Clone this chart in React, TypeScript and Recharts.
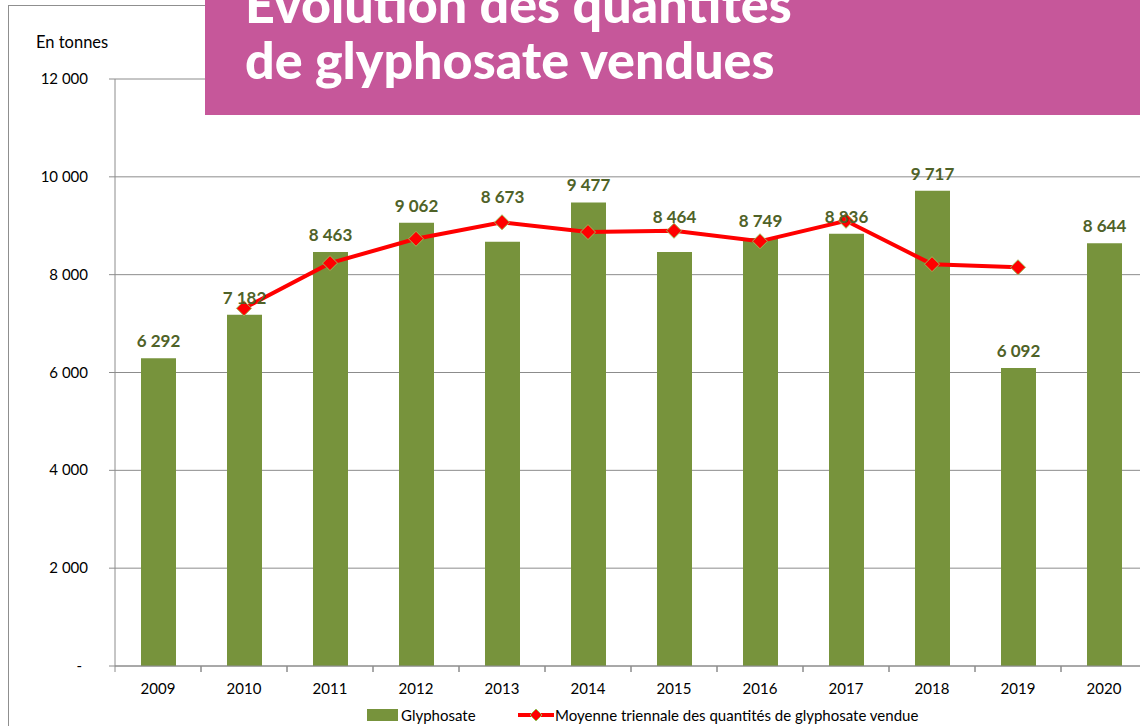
import React from 'react';
import { ComposedChart, Bar, Line, XAxis, YAxis, CartesianGrid, LabelList } from 'recharts';

const years = ['2009', '2010', '2011', '2012', '2013', '2014', '2015', '2016', '2017', '2018', '2019', '2020'];
const glyphosate = [6292, 7182, 8463, 9062, 8673, 9477, 8464, 8749, 8836, 9717, 6092, 8644];
const moyenneTriennale: (number | null)[] = [null, 7312, 8236, 8733, 9071, 8871, 8897, 8683, 9101, 8215, 8151, null];
const yTicks = [0, 2000, 4000, 6000, 8000, 10000, 12000];

const titleLines = ['Évolution des quantités', 'de glyphosate vendues'];
const unitLabel = 'En tonnes';
const seriesNames = ['Glyphosate', 'Moyenne triennale des quantités de glyphosate vendue'];

// label lift (px above bar top) for labels moved in the original
const labelLift: Record<string, number> = { '2013': 45, '2015': 35 };

const data = years.map((y, i) => ({ year: y, glyphosate: glyphosate[i], moyenne: moyenneTriennale[i] }));

const FONT = 'Lato, "Open Sans", sans-serif';
const GRID = '#8c8c8c';
const GREEN = '#77933c';
const LABEL = '#4f6228';
const RED = '#ff0000';

const fmt = (v: number) => (v === 0 ? '-' : String(v).replace(/\B(?=(\d{3})+(?!\d))/g, ' '));

const YTick = (props: any) => {
  const { x, y, payload } = props;
  const isZero = payload.value === 0;
  return (
    <text x={x - (isZero ? 6 : 0)} y={y} dy={5} textAnchor="end" fontFamily={FONT} fontSize={15} fill="#000">
      {fmt(payload.value)}
    </text>
  );
};

const XTick = (props: any) => {
  const { x, y, payload } = props;
  const half = payload && payload.offset ? payload.offset : 43;
  return (
    <g>
      <line x1={x - half} x2={x - half} y1={y - 8} y2={y - 2} stroke={GRID} strokeWidth={1} />
      <line x1={x + half} x2={x + half} y1={y - 8} y2={y - 2} stroke={GRID} strokeWidth={1} />
      <text x={x} y={y} dy={20} textAnchor="middle" fontFamily={FONT} fontSize={15} fill="#000">
        {payload.value}
      </text>
    </g>
  );
};

const BarLabel = (props: any) => {
  const { x, y, width, value, index } = props;
  const lift = labelLift[years[index]] ?? 17;
  return (
    <text
      x={x + width / 2}
      y={y - lift}
      dy={6}
      textAnchor="middle"
      fontFamily={FONT}
      fontWeight={700}
      fontSize={17}
      fill={LABEL}
    >
      {fmt(value)}
    </text>
  );
};

const Diamond = (props: any) => {
  const { cx, cy, value } = props;
  if (value === null || value === undefined || cx == null || cy == null) return null;
  const r = 7.5;
  return (
    <polygon
      points={`${cx},${cy - r} ${cx + r},${cy} ${cx},${cy + r} ${cx - r},${cy}`}
      fill={RED}
      stroke="#9bbb59"
      strokeWidth={1}
    />
  );
};

export default function App() {
  return (
    <div style={{ position: 'absolute', left: 0, top: 0, width: 1140, height: 726, overflow: 'hidden', background: '#fff' }}>
      <div
        style={{
          position: 'absolute',
          left: 8,
          top: 5,
          width: 1300,
          height: 900,
          borderLeft: '1px solid #8f8f8f',
          borderTop: '1px solid #8f8f8f',
        }}
      />
      <div style={{ position: 'absolute', left: 0, top: 0 }}>
        <ComposedChart
          width={1200}
          height={726}
          data={data}
          margin={{ top: 79, right: 53, left: 0, bottom: 30 }}
          barCategoryGap={0}
        >
          <CartesianGrid vertical={false} stroke={GRID} strokeWidth={1} />
          <XAxis
            dataKey="year"
            height={30}
            axisLine={{ stroke: GRID }}
            tickLine={false}
            tickSize={6}
            tickMargin={2}
            interval={0}
            tick={<XTick />}
          />
          <YAxis
            width={115}
            domain={[0, 12000]}
            ticks={yTicks}
            interval={0}
            axisLine={{ stroke: GRID }}
            tickLine={{ stroke: GRID }}
            tickSize={6}
            tickMargin={21}
            tick={<YTick />}
          />
          <Bar dataKey="glyphosate" name={seriesNames[0]} fill={GREEN} barSize={35} isAnimationActive={false}>
            <LabelList dataKey="glyphosate" content={<BarLabel />} />
          </Bar>
          <Line
            dataKey="moyenne"
            name={seriesNames[1]}
            stroke={RED}
            strokeWidth={4}
            dot={<Diamond />}
            activeDot={false}
            connectNulls={false}
            isAnimationActive={false}
          />
        </ComposedChart>
      </div>

      <div style={{ position: 'absolute', left: 36, top: 32, fontFamily: FONT, fontSize: 16.5, color: '#000', lineHeight: '20px' }}>
        {unitLabel}
      </div>

      <svg style={{ position: 'absolute', left: 205, top: 0 }} width={935} height={115}>
        <rect x={0} y={0} width={935} height={115} fill="#c6579a" />
        <text x={40} y={23} fontFamily={FONT} fontWeight={900} fontSize={52} fill="#fff">
          {titleLines[0]}
        </text>
        <text x={40} y={79} fontFamily={FONT} fontWeight={900} fontSize={52} fill="#fff">
          {titleLines[1]}
        </text>
      </svg>

      <div style={{ position: 'absolute', left: 0, top: 706, width: 1140, height: 20 }}>
        <svg style={{ position: 'absolute', left: 367, top: 3 }} width={31} height={12}>
          <rect x={0} y={0} width={31} height={12} fill={GREEN} />
        </svg>
        <div style={{ position: 'absolute', left: 401, top: 0, fontFamily: FONT, fontSize: 15, lineHeight: '18px', whiteSpace: 'nowrap' }}>
          {seriesNames[0]}
        </div>
        <svg style={{ position: 'absolute', left: 517, top: 0 }} width={38} height={18}>
          <line x1={1} x2={37} y1={9} y2={9} stroke={RED} strokeWidth={4} />
          <polygon points="19,3 25,9 19,15 13,9" fill={RED} stroke="#9bbb59" strokeWidth={1} />
        </svg>
        <div style={{ position: 'absolute', left: 555, top: 0, fontFamily: FONT, fontSize: 15, lineHeight: '18px', whiteSpace: 'nowrap' }}>
          {seriesNames[1]}
        </div>
      </div>
    </div>
  );
}
